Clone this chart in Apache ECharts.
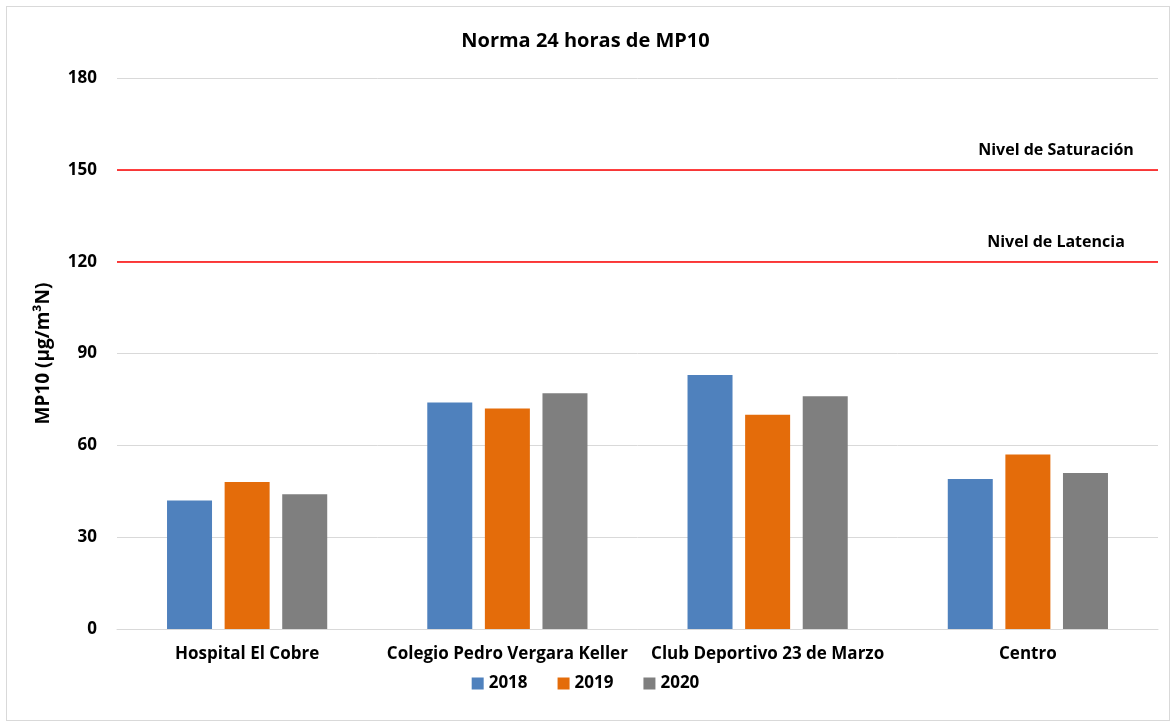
<!DOCTYPE html>
<html>
<head>
<meta charset="utf-8">
<script src="https://cdn.jsdelivr.net/npm/echarts@6/dist/echarts.min.js"></script>
<style>
  html, body { margin: 0; padding: 0; background: #fff; }
  #frame { position: absolute; left: 6px; top: 6px; width: 1162px; height: 713px; border: 1px solid #d9d9d9; }
  #chart { position: absolute; left: 0; top: 0; width: 1171px; height: 727px; }
</style>
</head>
<body>
<div id="frame"></div>
<div id="chart"></div>
<script>
// MP10 24h data
const stations = [
  "Hospital El Cobre",
  "Colegio Pedro Vergara Keller",
  "Club Deportivo 23 de Marzo",
  "Centro",
];
const years = ["2018", "2019", "2020"];
const values2018 = [42, 74, 83, 49];
const values2019 = [48, 72, 70, 57];
const values2020 = [44, 77, 76, 51];
const saturationLevel = 150;
const latencyLevel = 120;
const yTicks = [0, 30, 60, 90, 120, 150, 180];

const colors = ["#4F81BD", "#E46C0A", "#7F7F7F"];
const font = "'Open Sans', 'Liberation Sans', sans-serif";

let chart = echarts.init(document.getElementById("chart"));

function bar(name, data, color, withLines) {
  let serie = {
    name: name,
    type: "bar",
    data: data,
    barWidth: 45,
    barGap: "28%",
    itemStyle: { color: color },
  };
  if (withLines) {
    serie.markLine = {
      silent: true,
      symbol: "none",
      lineStyle: { color: "#FF0000", width: 1.5, type: "solid" },
      label: {
        position: "insideEndTop",
        align: "center",
        color: "#000",
        fontFamily: font,
        fontWeight: "bold",
        fontSize: 16,
        distance: [102, 11],
      },
      data: [
        { yAxis: saturationLevel, label: { formatter: "Nivel de Saturación" } },
        { yAxis: latencyLevel, label: { formatter: "Nivel de Latencia" } },
      ],
    };
  }
  return serie;
}

let option = {
  animation: false,
  textStyle: { fontFamily: font },
  color: colors,
  title: {
    text: "Norma 24 horas de MP10",
    left: "center",
    top: 26,
    textStyle: { fontFamily: font, fontWeight: "bold", fontSize: 20, color: "#000" },
  },
  legend: {
    bottom: 30,
    left: "center",
    itemWidth: 12,
    itemHeight: 12,
    itemGap: 30,
    icon: "rect",
    textStyle: { fontFamily: font, fontWeight: "bold", fontSize: 17, color: "#000" },
    data: years,
  },
  grid: { left: 117, right: 13, top: 78, bottom: 98 },
  xAxis: {
    type: "category",
    data: stations,
    axisTick: { show: false },
    axisLine: { lineStyle: { color: "#d9d9d9" } },
    axisLabel: { interval: 0, color: "#000", fontWeight: "bold", fontSize: 17, margin: 17, fontFamily: font },
  },
  yAxis: {
    type: "value",
    min: yTicks[0],
    max: yTicks[yTicks.length - 1],
    interval: 30,
    name: "MP10 (µg/m³N)",
    nameLocation: "center",
    nameGap: 64,
    nameTextStyle: { color: "#000", fontWeight: "bold", fontSize: 19, fontFamily: font },
    axisLine: { show: false },
    axisTick: { show: false },
    splitLine: { lineStyle: { color: "#d9d9d9" } },
    axisLabel: { color: "#000", fontWeight: "bold", fontSize: 17, margin: 20, fontFamily: font },
  },
  series: [
    bar(years[0], values2018, colors[0], true),
    bar(years[1], values2019, colors[1], false),
    bar(years[2], values2020, colors[2], false),
  ],
};

chart.setOption(option);
</script>
</body>
</html>
